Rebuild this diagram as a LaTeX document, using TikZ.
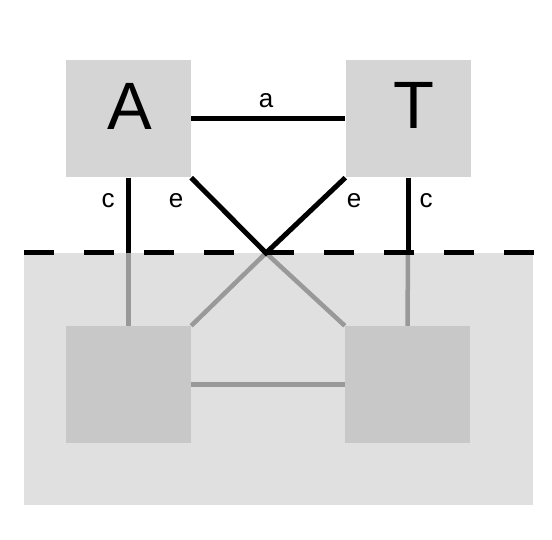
\documentclass[tikz,border=0pt]{standalone}
\usepackage{fontspec}
\setmainfont{Liberation Sans}
\usepackage{xcolor}
\definecolor{topgray}{RGB}{213,213,213}
\definecolor{lowgray}{RGB}{200,200,200}
\definecolor{layergray}{RGB}{224,224,224}
\definecolor{linkgray}{RGB}{153,153,153}

\begin{document}
\begin{tikzpicture}[x=1pt,y=-1pt,
    box/.style={minimum width=125pt,minimum height=117pt,inner sep=0pt},
    toplink/.style={line width=5pt,black},
    lowlink/.style={line width=4.5pt,linkgray},
    big/.style={font=\fontsize{67}{70}\selectfont},
    lbl/.style={font=\fontsize{26}{30}\selectfont}]
    \useasboundingbox (0,0) rectangle (552,540);

    % Lower layer
    \fill[layergray] (24,253) rectangle (533,505);
    \node[box,fill=lowgray] (LA) at (128.5,384.5) {};
    \node[box,fill=lowgray] (LT) at (407.5,384.5) {};
    \coordinate (X) at (266,253);

    % Upper boxes
    \node[box,fill=topgray] (A) at (128.5,119) {};
    \node[box,fill=topgray] (T) at (408,119) {};
    \node[big] (Aname) at (130,106) {A};
    \node[big] (Tname) at (414,105) {T};

    % Lower links
    \draw[lowlink] (A.south |- X) -- (LA.north);
    \draw[lowlink] (T.south |- X) -- (LT.north);
    \draw[lowlink] (LA.north east) -- (X) -- (LT.north west);
    \draw[lowlink] (LA) -- (LT);

    % Border
    \draw[line width=5pt,dash pattern=on 30pt off 30pt] (24,253) -- (534,253);

    % Upper links
    \draw[toplink] (A) -- (T);
    \draw[toplink] (A.south) -- (A.south |- X);
    \draw[toplink] (T.south) -- (T.south |- X);
    \draw[toplink] (A.south east) -- (X) -- (T.south west);
    \node[lbl] (la) at (266,101) {a};
    \node[lbl] (lc1) at (108,201) {c};
    \node[lbl] (le1) at (176,201) {e};
    \node[lbl] (le2) at (354,201) {e};
    \node[lbl] (lc2) at (426,201) {c};
\end{tikzpicture}
\end{document}
